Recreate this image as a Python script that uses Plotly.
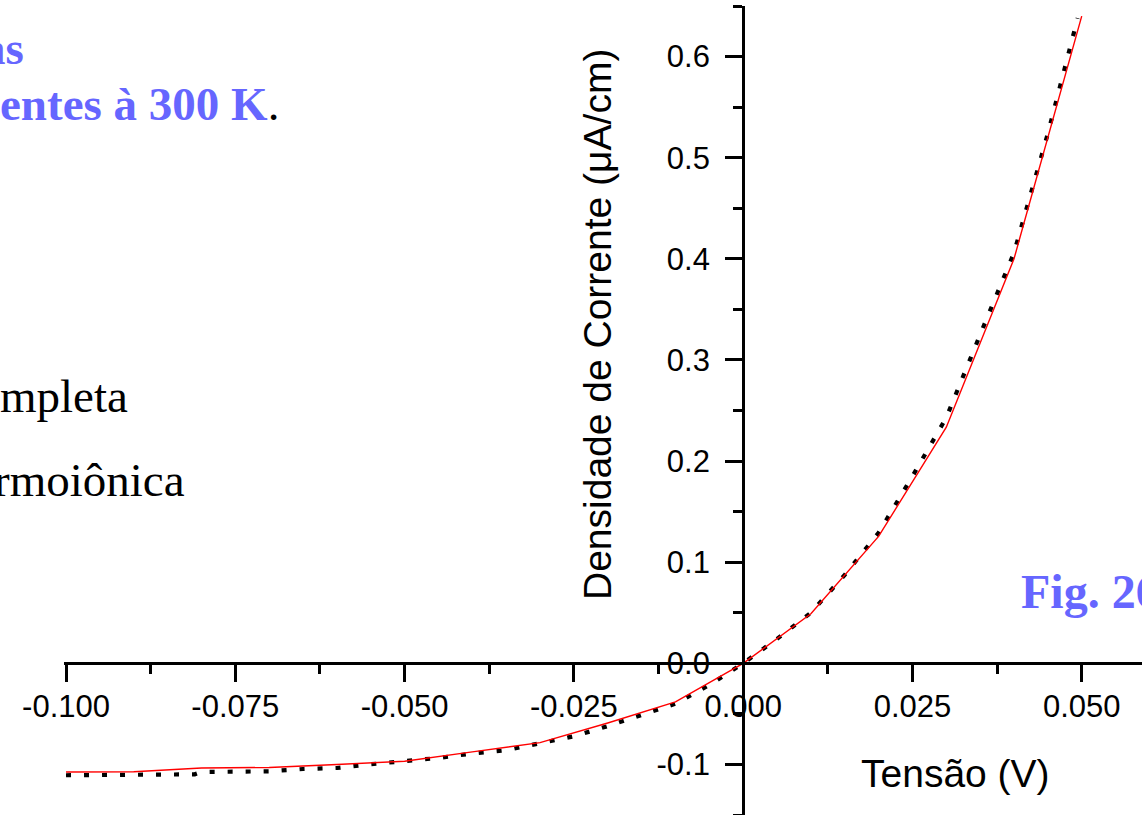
import plotly.graph_objects as go

# ---- data ----
# red solid curve (thermionic emission)
red_v = [-0.100, -0.090, -0.080, -0.070, -0.060, -0.050, -0.040, -0.030, -0.020, -0.010,
         0.000, 0.010, 0.020, 0.030, 0.040, 0.050]
red_j = [-0.1075, -0.1072, -0.1035, -0.1030, -0.1000, -0.0968, -0.0876, -0.0784, -0.0590, -0.0382,
         0.000, 0.049, 0.1255, 0.2335, 0.400, 0.640]

# black dotted curve (complete model)
blk_v = [-0.100, -0.095, -0.090, -0.085, -0.081, -0.080, -0.075, -0.070, -0.065, -0.060,
         -0.055, -0.050, -0.045, -0.040, -0.035, -0.030, -0.025, -0.020, -0.015, -0.010,
         -0.005, 0.000, 0.005, 0.010, 0.015, 0.020, 0.025, 0.030, 0.035, 0.040,
         0.045, 0.0494]
blk_j = [-0.1107, -0.1106, -0.1105, -0.1100, -0.1098, -0.1075, -0.1075, -0.1068, -0.1045, -0.1035,
         -0.0998, -0.0965, -0.0936, -0.0892, -0.0860, -0.0790, -0.0722, -0.0621, -0.0515, -0.0400,
         -0.0215, 0.000, 0.0242, 0.0500, 0.0875, 0.129, 0.185, 0.243, 0.325, 0.406,
         0.524, 0.638]

x_tick_vals = [-0.100, -0.075, -0.050, -0.025, 0.000, 0.025, 0.050]
x_tick_text = ["-0.100", "-0.075", "-0.050", "-0.025", "0.000", "0.025", "0.050"]
y_tick_vals = [-0.1, 0.0, 0.1, 0.2, 0.3, 0.4, 0.5, 0.6]
y_tick_text = ["-0.1", "0.0", "0.1", "0.2", "0.3", "0.4", "0.5", "0.6"]

W, H = 1142, 815
x_range = [-0.1003, 0.0589]
y_range = [-0.15, 0.65]
x_dom = [64 / W, 1.0]
y_dom = [0.0, 809 / H]

x_axis_pos = y_dom[0] + (0 - y_range[0]) / (y_range[1] - y_range[0]) * (y_dom[1] - y_dom[0])
y_axis_pos = x_dom[0] + (0 - x_range[0]) / (x_range[1] - x_range[0]) * (x_dom[1] - x_dom[0])

tick_font = dict(family="Liberation Sans, Arial, sans-serif", size=31, color="black")

fig = go.Figure()
fig.add_trace(go.Scatter(x=blk_v, y=blk_j, mode="lines",
                         line=dict(color="black", width=4.2, dash="5px,13px"),
                         showlegend=False, hoverinfo="skip"))
fig.add_trace(go.Scatter(x=red_v, y=red_j, mode="lines",
                         line=dict(color="#ff0000", width=1.4),
                         showlegend=False, hoverinfo="skip"))

fig.update_layout(
    width=W, height=H,
    margin=dict(l=0, r=0, t=0, b=0, autoexpand=False),
    paper_bgcolor="white", plot_bgcolor="white",
    xaxis=dict(range=x_range, domain=x_dom, anchor="free", position=x_axis_pos, automargin=False,
               showgrid=False, zeroline=False, showline=True, linecolor="black", linewidth=3,
               ticks="outside", ticklen=17, tickwidth=3, tickcolor="black",
               tickmode="array", tickvals=x_tick_vals, ticktext=x_tick_text,
               tickfont=tick_font, ticklabelstandoff=-3,
               minor=dict(ticks="outside", ticklen=9, tickwidth=3, tickcolor="black",
                          tickmode="linear", tick0=0, dtick=0.0125)),
    yaxis=dict(range=y_range, domain=y_dom, anchor="free", position=y_axis_pos, automargin=False,
               showgrid=False, zeroline=False, showline=True, linecolor="black", linewidth=3,
               ticks="outside", ticklen=17, tickwidth=3, tickcolor="black",
               tickmode="array", tickvals=y_tick_vals, ticktext=y_tick_text,
               tickfont=tick_font, ticklabelstandoff=9,
               minor=dict(ticks="outside", ticklen=9, tickwidth=3, tickcolor="black",
                          tickmode="linear", tick0=0, dtick=0.05)),
)

def px(x):
    return x / W

def py(y):
    return 1 - y / H

title_font = dict(family="Liberation Sans, Arial, sans-serif", size=39, color="black")
blue = "#6666ff"
serif_bold = dict(family="Liberation Serif, Times New Roman, serif", size=47, color=blue)
serif = dict(family="Liberation Serif, Times New Roman, serif", size=47, color="black")

annotations = [
    dict(text="Tensão (V)", x=px(955), y=py(773), xanchor="center", yanchor="middle", font=title_font),
    dict(text="Densidade de Corrente (μA/cm)", x=px(598), y=py(325), xanchor="center", yanchor="middle",
         textangle=-90, font=title_font),
    dict(text="<b>as</b>", x=px(26), y=py(48), xanchor="right", yanchor="middle", font=serif_bold),
    dict(text="<b>entes à 300 K</b><span style='color:black'>.</span>", x=px(281), y=py(104),
         xanchor="right", yanchor="middle", font=serif_bold),
    dict(text="mpleta", x=px(130), y=py(396), xanchor="right", yanchor="middle", font=serif),
    dict(text="rmoiônica", x=px(187), y=py(480), xanchor="right", yanchor="middle", font=serif),
    dict(text="<b>Fig. 26</b>", x=px(1019), y=py(591), xanchor="left", yanchor="middle",
         font=dict(family="Liberation Serif, Times New Roman, serif", size=48, color=blue)),
]
for a in annotations:
    a.update(xref="paper", yref="paper", showarrow=False)
fig.update_layout(annotations=annotations)

fig.write_html("out.html", config={"displayModeBar": False})
